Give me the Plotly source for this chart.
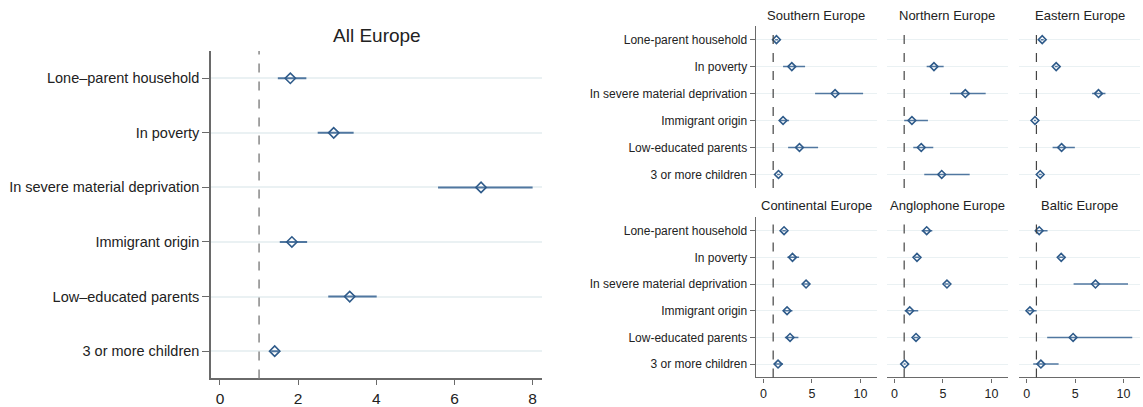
import plotly.graph_objects as go

# Risk factors (top to bottom)
factors_all = ["Lone\u2013parent household", "In poverty", "In severe material deprivation",
               "Immigrant origin", "Low\u2013educated parents", "3 or more children"]
factors_reg = ["Lone-parent household", "In poverty", "In severe material deprivation",
               "Immigrant origin", "Low-educated parents", "3 or more children"]

# All Europe: estimate, lower bound, upper bound
all_est = [1.80, 2.91, 6.68, 1.84, 3.32, 1.40]
all_lo = [1.48, 2.50, 5.58, 1.53, 2.77, 1.31]
all_hi = [2.21, 3.42, 8.00, 2.23, 4.01, 1.50]

# Regional estimates
southern_est = [1.34, 2.92, 7.38, 2.02, 3.71, 1.55]
southern_lo = [1.20, 2.02, 5.32, 1.68, 2.54, 1.40]
southern_hi = [1.50, 4.29, 10.27, 2.64, 5.63, 1.70]

northern_est = [None, 4.07, 7.30, 1.80, 2.76, 4.87]
northern_lo = [None, 3.32, 5.72, 1.00, 1.94, 3.07]
northern_hi = [None, 5.07, 9.40, 3.45, 4.00, 7.75]

eastern_est = [1.60, 3.04, 7.41, 0.85, 3.60, 1.39]
eastern_lo = [1.45, 2.90, 6.75, 0.75, 2.67, 1.25]
eastern_hi = [1.75, 3.20, 8.13, 0.95, 4.97, 1.55]

continental_est = [2.12, 2.99, 4.39, 2.43, 2.74, 1.50]
continental_lo = [1.95, 2.47, 4.05, 2.06, 2.20, 1.09]
continental_hi = [2.30, 3.67, 4.80, 2.99, 3.60, 2.02]

anglophone_est = [3.32, 2.32, 5.41, 1.57, 2.22, 1.05]
anglophone_lo = [2.80, 2.10, 5.20, 1.05, 2.00, 0.95]
anglophone_hi = [3.90, 2.55, 5.60, 2.45, 2.45, 1.15]

baltic_est = [1.29, 3.56, 7.10, 0.33, 4.79, 1.46]
baltic_lo = [0.92, 3.35, 4.84, 0.09, 2.11, 0.67]
baltic_hi = [2.15, 3.80, 10.46, 1.02, 10.90, 3.29]

regions = [
    ("Southern Europe", southern_est, southern_lo, southern_hi),
    ("Northern Europe", northern_est, northern_lo, northern_hi),
    ("Eastern Europe", eastern_est, eastern_lo, eastern_hi),
    ("Continental Europe", continental_est, continental_lo, continental_hi),
    ("Anglophone Europe", anglophone_est, anglophone_lo, anglophone_hi),
    ("Baltic Europe", baltic_est, baltic_lo, baltic_hi),
]

W, H = 1143, 407
FONT = "Liberation Sans, Arial, sans-serif"
LINE_COL = "#5077a0"
MARK_COL = "#2f5b8a"
GRID_COL = "#eaf1f3"
AXIS_COL = "#6a6a6a"


def px_x(a, b):
    return [a / W, b / W]


def px_y(top, bottom):
    return [1 - bottom / H, 1 - top / H]


fig = go.Figure()


def add_panel(idx, est, lo, hi, lw, msize):
    ys = list(range(len(est)))
    minus = [None if e is None else e - l for e, l in zip(est, lo)]
    plus = [None if e is None else h - e for e, h in zip(est, hi)]
    sfx = "" if idx == 1 else str(idx)
    fig.add_trace(go.Scatter(
        x=est, y=ys, mode="markers",
        xaxis="x" + sfx, yaxis="y" + sfx,
        marker=dict(symbol="diamond-open", size=msize, color=MARK_COL,
                    line=dict(width=1.6, color=MARK_COL)),
        error_x=dict(type="data", symmetric=False, array=plus, arrayminus=minus,
                     color=LINE_COL, thickness=lw, width=0),
        showlegend=False, hoverinfo="x+y",
    ))


layout = dict(
    width=W, height=H, margin=dict(l=0, r=0, t=0, b=0),
    paper_bgcolor="white", plot_bgcolor="white",
    font=dict(family=FONT, color="#222222"),
    showlegend=False,
)
shapes = []
annotations = []

# Left panel: All Europe
add_panel(1, all_est, all_lo, all_hi, 2, 8)
layout["xaxis"] = dict(domain=px_x(211, 542), range=[-0.23, 8.24], anchor="y",
                       tickvals=[0, 2, 4, 6, 8], ticks="outside", ticklen=5, tickcolor=AXIS_COL,
                       showline=True, linecolor=AXIS_COL, linewidth=1.5, showgrid=False,
                       zeroline=False, tickfont=dict(size=15.5, family=FONT, color="#222"))
layout["yaxis"] = dict(domain=px_y(52, 386), range=[5.5, -0.5], anchor="x",
                       tickvals=list(range(6)), ticktext=factors_all,
                       ticks="outside", ticklen=7, tickcolor=AXIS_COL,
                       showline=True, linecolor=AXIS_COL, linewidth=1.5,
                       showgrid=True, gridcolor=GRID_COL, gridwidth=1.5, zeroline=False,
                       tickfont=dict(size=14.5, family=FONT, color="#222"))
shapes.append(dict(type="line", xref="x", yref="y domain", x0=1, x1=1, y0=0, y1=1,
                   line=dict(color="#888888", width=1.5, dash="dash")))
annotations.append(dict(text="All Europe", x=376.5 / W, y=1 - 36 / H, xref="paper", yref="paper",
                        showarrow=False, xanchor="center", yanchor="middle",
                        font=dict(size=19, family=FONT, color="#222")))

# Right grid: 2 rows x 3 columns
cols = [(755.7, 877), (886.7, 1008), (1019, 1140)]
rows = [(26.7, 191.7), (221.7, 385)]
title_y = [15.7, 210]

for i, (name, est, lo, hi) in enumerate(regions):
    idx = i + 2
    r, c = divmod(i, 3)
    add_panel(idx, est, lo, hi, 1.5, 6)
    xa, ya = "xaxis%d" % idx, "yaxis%d" % idx
    bottom = r == 1
    layout[xa] = dict(domain=px_x(*cols[c]), range=[-0.8, 11.7], anchor="y%d" % idx,
                      tickvals=[0, 5, 10], showticklabels=bottom,
                      ticks="outside" if bottom else "", ticklen=4, tickcolor=AXIS_COL,
                      showline=bottom, linecolor=AXIS_COL, linewidth=1.2,
                      showgrid=False, zeroline=False,
                      tickfont=dict(size=12.5, family=FONT, color="#222"))
    layout[ya] = dict(domain=px_y(*rows[r]), range=[5.5, -0.5], anchor="x%d" % idx,
                      tickvals=list(range(6)),
                      ticktext=factors_reg if c == 0 else [""] * 6,
                      showticklabels=(c == 0),
                      ticks="outside" if c == 0 else "", ticklen=5, tickcolor=AXIS_COL,
                      showline=(c == 0), linecolor=AXIS_COL, linewidth=1.2,
                      showgrid=True, gridcolor=GRID_COL, gridwidth=1.2, zeroline=False,
                      tickfont=dict(size=12, family=FONT, color="#222"))
    shapes.append(dict(type="line", xref="x%d" % idx, yref="y%d domain" % idx,
                       x0=1, x1=1, y0=0, y1=1,
                       line=dict(color="#444444", width=1.2, dash="dash")))
    annotations.append(dict(text=name, x=(cols[c][0] + cols[c][1]) / 2 / W,
                            y=1 - title_y[r] / H, xref="paper", yref="paper",
                            showarrow=False, xanchor="center", yanchor="middle",
                            font=dict(size=13, family=FONT, color="#222")))

layout["shapes"] = shapes
layout["annotations"] = annotations
fig.update_layout(**layout)
fig.write_html("out.html")
